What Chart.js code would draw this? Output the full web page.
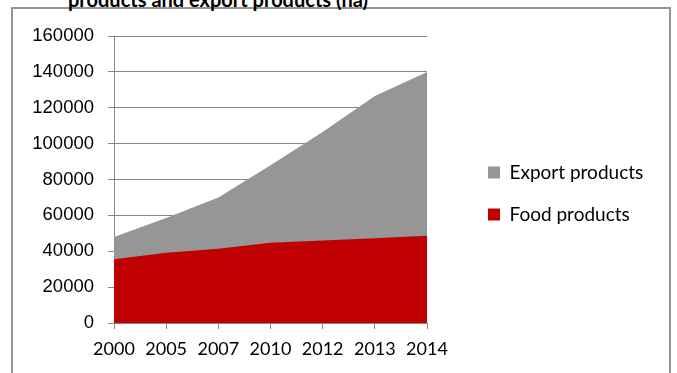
<!DOCTYPE html>
<html>
<head>
<meta charset="utf-8">
<script src="https://cdn.jsdelivr.net/npm/chart.js@4"></script>
<style>
  body { margin: 0; background: #fff; }
  #wrap { position: relative; width: 677px; height: 373px; overflow: hidden; }
  #frame { position: absolute; left: 11px; top: 7px; width: 656px; height: 400px; border: 2px solid #959595; }
  #title { position: absolute; left: 68px; top: -11px; font: bold 20px Lato, sans-serif; color: #000; white-space: nowrap; line-height: 20px; }
  #areaChart { position: absolute; left: 0; top: 0; }
</style>
</head>
<body>
<div id="wrap">
  <div id="frame"></div>
  <div id="title">products and export products (ha)</div>
  <canvas id="areaChart" width="677" height="373"></canvas>
</div>
<script>
// years on the x axis
const years = ['2000', '2005', '2007', '2010', '2012', '2013', '2014'];
// area in hectares
const exportArea = [48000, 58500, 70000, 88000, 106500, 126500, 140000];
const foodArea = [35500, 39200, 41400, 44800, 46000, 47300, 48600];
// y axis range
const yMin = 0;
const yMax = 160000;
const yStep = 20000;

const gridColor = '#878787';

// legend sits away from the plot; widen its box and move the items right
const legendSpot = {
  id: 'legendSpot',
  beforeUpdate(chart) {
    const lg = chart.legend;
    if (lg && !lg._wide) {
      const fit = lg.fit;
      lg.fit = function () {
        fit.call(this);
        this.width = 250;
      };
      lg._wide = true;
    }
  },
  afterLayout(chart) {
    const lg = chart.legend;
    lg.left += 38;
    lg.top = 140;
    lg.bottom = 373;
  }
};

new Chart(document.getElementById('areaChart'), {
  type: 'line',
  data: {
    labels: years,
    datasets: [
      {
        label: 'Food products',
        data: foodArea,
        order: 0,
        fill: 'origin',
        backgroundColor: '#c00000',
        borderColor: '#c00000',
        borderWidth: 0,
        pointRadius: 0,
        tension: 0
      },
      {
        label: 'Export products',
        data: exportArea,
        order: 1,
        fill: 'origin',
        backgroundColor: '#969696',
        borderColor: '#969696',
        borderWidth: 0,
        pointRadius: 0,
        tension: 0
      }
    ]
  },
  options: {
    responsive: false,
    animation: false,
    layout: { padding: { top: 36, left: 0, right: 0, bottom: 0 } },
    plugins: {
      title: { display: false },
      tooltip: { enabled: false },
      legend: {
        position: 'right',
        align: 'start',
        reverse: true,
        labels: {
          boxWidth: 12,
          boxHeight: 12,
          padding: 23,
          color: '#000',
          font: { family: 'Lato', size: 19 }
        }
      }
    },
    scales: {
      x: {
        offset: false,
        grid: { drawOnChartArea: false, drawTicks: true, tickLength: 6, color: gridColor },
        border: { color: gridColor, width: 1 },
        ticks: {
          color: '#000',
          font: { family: 'Lato', size: 18 },
          padding: 9,
          maxRotation: 0,
          autoSkip: false
        },
        afterFit(scale) { scale.height = 50; }
      },
      y: {
        min: yMin,
        max: yMax,
        grid: { color: gridColor, tickLength: 6 },
        border: { color: gridColor, width: 1 },
        ticks: {
          stepSize: yStep,
          color: '#000',
          font: { family: 'Liberation Sans', size: 18.5 },
          padding: 14,
          callback: (v) => String(v)
        },
        afterFit(scale) { scale.width = 114; }
      }
    }
  },
  plugins: [legendSpot]
});
</script>
</body>
</html>
